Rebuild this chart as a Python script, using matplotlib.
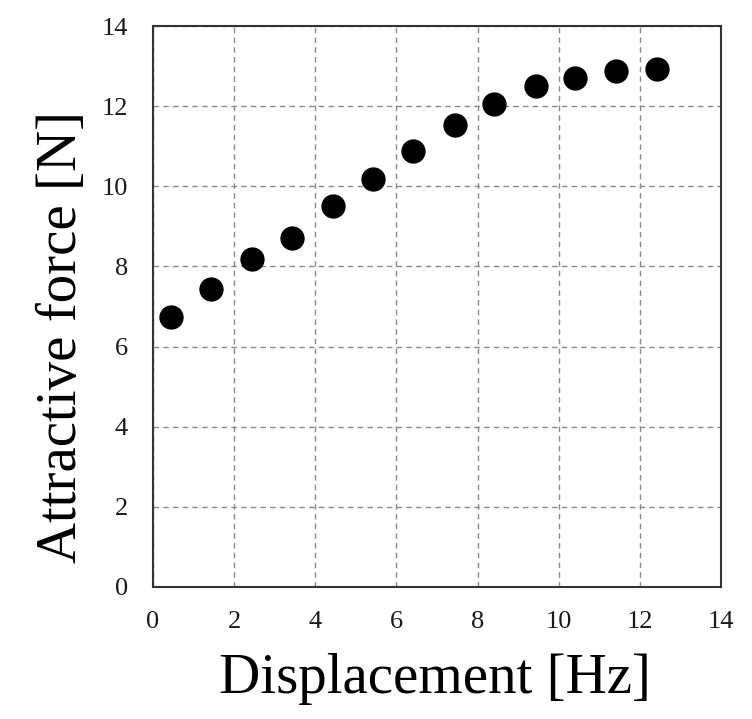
import numpy as np
import matplotlib.pyplot as plt

# values
displacement = [0.44, 1.43, 2.44, 3.42, 4.44, 5.43, 6.41, 7.44, 8.41, 9.43, 10.41, 11.40, 12.41]
force = [6.75, 7.44, 8.19, 8.71, 9.51, 10.19, 10.88, 11.53, 12.05, 12.50, 12.71, 12.88, 12.94]
ticks = [0, 2, 4, 6, 8, 10, 12, 14]

plt.rcParams['font.family'] = ['Liberation Serif', 'DejaVu Serif']

fig = plt.figure(figsize=(7.52, 7.19), dpi=100)
ax = fig.add_axes([0.2035, 0.1836, 0.7553, 0.7802])

ax.plot(displacement, force, 'o', color='black', markersize=16.5, zorder=3)

ax.set_xlim(0, 14)
ax.set_ylim(0, 14)
ax.set_xticks(ticks)
ax.set_yticks(ticks)
ax.grid(True, color='#8a8a8a', linestyle=(0, (4, 3)), linewidth=1.0)
ax.tick_params(length=0, labelsize=19, colors='#1a1a1a')
ax.tick_params(axis='x', pad=17)
ax.tick_params(axis='y', pad=18)
for s in ax.spines.values():
    s.set_color('#333333')
    s.set_linewidth(1.5)

ax.set_xlabel('Displacement [Hz]', fontsize=41)
ax.xaxis.set_label_coords(0.496, -0.118)
ax.set_ylabel('Attractive force [N]', fontsize=41)
ax.yaxis.set_label_coords(-0.115, 0.446)

fig.savefig('out.png', dpi=100)
